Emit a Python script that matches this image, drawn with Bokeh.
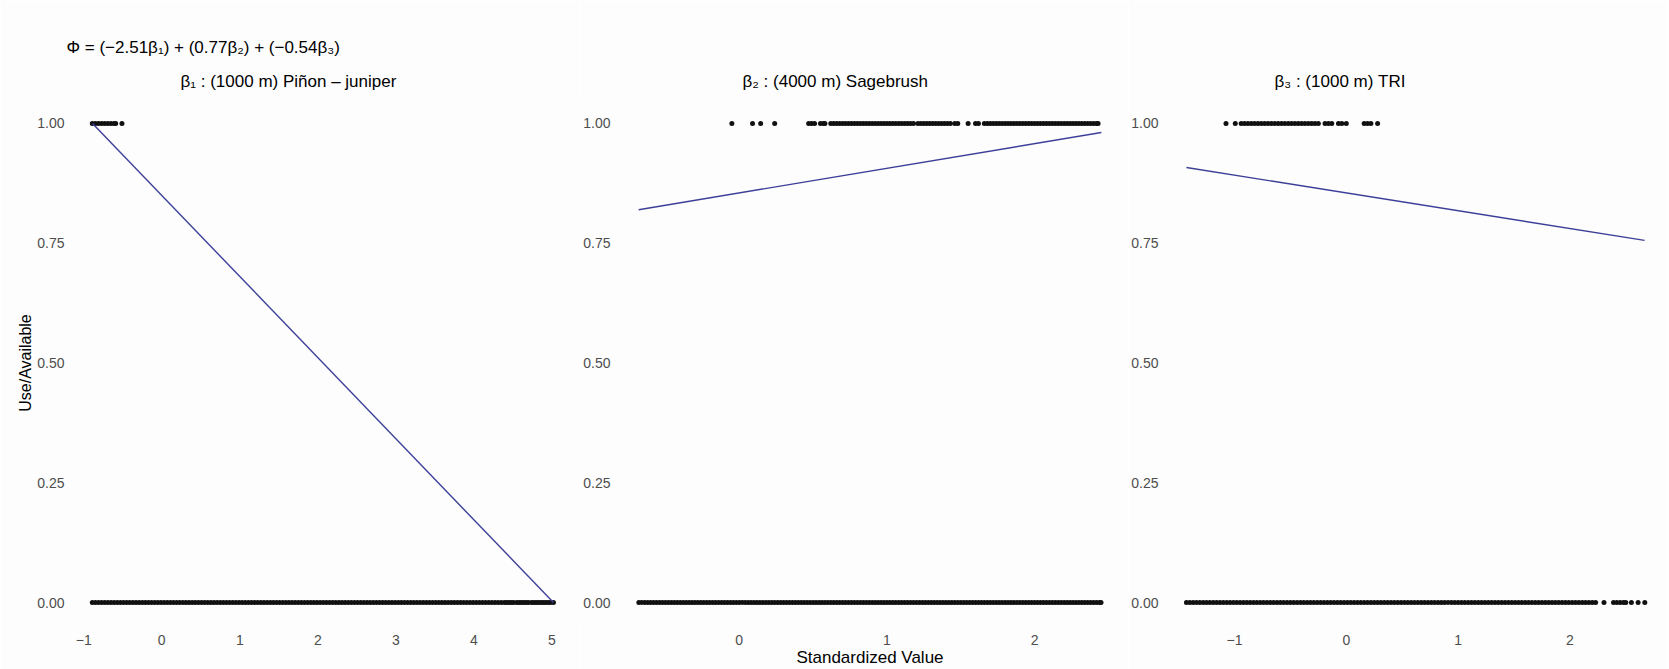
from bokeh.plotting import figure
from bokeh.layouts import row
from bokeh.models import FixedTicker, NumeralTickFormatter, Title
from bokeh.embed import file_html
from bokeh.resources import INLINE

# ---------------- data ----------------
equation = "Φ = (−2.51β₁) + (0.77β₂) + (−0.54β₃)"
panel_titles = ["β₁ : (1000 m) Piñon – juniper", "β₂ : (4000 m) Sagebrush", "β₃ : (1000 m) TRI"]
x_axis_title = "Standardized Value"
y_axis_title = "Use/Available"

y_ticks = [0.0, 0.25, 0.5, 0.75, 1.0]
x_ticks_1 = [-1, 0, 1, 2, 3, 4, 5]
x_ticks_2 = [0, 1, 2]
x_ticks_3 = [-1, 0, 1, 2]

# panel 1: Piñon-juniper (1000 m)
used_x_1 = [-0.89, -0.85, -0.81, -0.77, -0.73, -0.69, -0.65, -0.61, -0.59, -0.51]
avail_x_1 = [
    -0.89, -0.85, -0.81, -0.77, -0.73, -0.69, -0.65, -0.61, -0.57, -0.53,
    -0.49, -0.45, -0.41, -0.37, -0.33, -0.29, -0.25, -0.21, -0.17, -0.13,
    -0.09, -0.05, -0.01, 0.03, 0.07, 0.11, 0.15, 0.19, 0.23, 0.27,
    0.31, 0.35, 0.39, 0.43, 0.47, 0.51, 0.55, 0.59, 0.63, 0.67,
    0.71, 0.75, 0.79, 0.83, 0.87, 0.91, 0.95, 0.99, 1.03, 1.07,
    1.11, 1.15, 1.19, 1.23, 1.27, 1.31, 1.35, 1.39, 1.43, 1.47,
    1.51, 1.55, 1.59, 1.63, 1.67, 1.71, 1.75, 1.79, 1.83, 1.87,
    1.91, 1.95, 1.99, 2.03, 2.07, 2.11, 2.15, 2.19, 2.23, 2.27,
    2.31, 2.35, 2.39, 2.43, 2.47, 2.51, 2.55, 2.59, 2.63, 2.67,
    2.71, 2.75, 2.79, 2.83, 2.87, 2.91, 2.95, 2.99, 3.03, 3.07,
    3.11, 3.15, 3.19, 3.23, 3.27, 3.31, 3.35, 3.39, 3.43, 3.47,
    3.51, 3.55, 3.59, 3.63, 3.67, 3.71, 3.75, 3.79, 3.83, 3.87,
    3.91, 3.95, 3.99, 4.03, 4.07, 4.11, 4.15, 4.19, 4.23, 4.27,
    4.31, 4.35, 4.39, 4.42, 4.45, 4.48, 4.51, 4.55, 4.58, 4.61,
    4.64, 4.67, 4.70, 4.74, 4.77, 4.80, 4.83, 4.86, 4.89, 4.92,
    4.95, 4.98, 5.02]
fit_x_1 = [-0.887, 5.02]
fit_y_1 = [1.0, 0.0]

# panel 2: Sagebrush (4000 m)
used_x_2 = [
    -0.05, 0.09, 0.145, 0.24,
    0.47, 0.49, 0.51, 0.55, 0.57, 0.58,
    0.62, 0.64, 0.66, 0.68, 0.70, 0.72, 0.74, 0.76, 0.78, 0.80,
    0.82, 0.84, 0.86, 0.88, 0.90, 0.92, 0.94, 0.96, 0.98, 1.00,
    1.02, 1.04, 1.06, 1.08, 1.10, 1.12, 1.14, 1.16, 1.18, 1.21,
    1.23, 1.25, 1.27, 1.29, 1.31, 1.33, 1.35, 1.37, 1.39, 1.41,
    1.43, 1.46, 1.48, 1.55, 1.60, 1.62, 1.66, 1.68, 1.70, 1.72,
    1.74, 1.76, 1.78, 1.80, 1.82, 1.84, 1.86, 1.88, 1.90, 1.92,
    1.94, 1.96, 1.98, 2.00, 2.02, 2.04, 2.06, 2.08, 2.10, 2.12,
    2.14, 2.16, 2.18, 2.20, 2.22, 2.24, 2.26, 2.28, 2.30, 2.32,
    2.34, 2.36, 2.38, 2.40, 2.42, 2.43]
avail_x_2 = [
    -0.68, -0.66, -0.64, -0.62, -0.60, -0.58, -0.56, -0.54, -0.52, -0.50,
    -0.48, -0.46, -0.44, -0.42, -0.40, -0.38, -0.36, -0.34, -0.32, -0.30,
    -0.28, -0.26, -0.24, -0.22, -0.20, -0.18, -0.16, -0.14, -0.12, -0.10,
    -0.08, -0.06, -0.04, -0.02, 0.00, 0.02, 0.04, 0.06, 0.08, 0.10,
    0.12, 0.14, 0.16, 0.18, 0.20, 0.22, 0.24, 0.26, 0.28, 0.30,
    0.32, 0.34, 0.36, 0.38, 0.40, 0.42, 0.44, 0.46, 0.48, 0.50,
    0.52, 0.54, 0.56, 0.58, 0.60, 0.62, 0.64, 0.66, 0.68, 0.70,
    0.72, 0.74, 0.76, 0.78, 0.80, 0.82, 0.84, 0.86, 0.88, 0.90,
    0.92, 0.94, 0.96, 0.98, 1.00, 1.02, 1.04, 1.06, 1.08, 1.10,
    1.12, 1.14, 1.16, 1.18, 1.20, 1.22, 1.24, 1.26, 1.28, 1.30,
    1.32, 1.34, 1.36, 1.38, 1.40, 1.42, 1.44, 1.46, 1.48, 1.50,
    1.52, 1.54, 1.56, 1.58, 1.60, 1.62, 1.64, 1.66, 1.68, 1.70,
    1.72, 1.74, 1.76, 1.78, 1.80, 1.82, 1.84, 1.86, 1.88, 1.90,
    1.92, 1.94, 1.96, 1.98, 2.00, 2.02, 2.04, 2.06, 2.08, 2.10,
    2.12, 2.14, 2.16, 2.18, 2.20, 2.22, 2.24, 2.26, 2.28, 2.30,
    2.32, 2.34, 2.36, 2.38, 2.40, 2.42, 2.44, 2.45]
fit_x_2 = [-0.681, 2.452]
fit_y_2 = [0.820, 0.981]

# panel 3: TRI (1000 m)
used_x_3 = [
    -1.076, -0.993, -0.94, -0.91, -0.88, -0.85, -0.82, -0.79, -0.76, -0.73,
    -0.70, -0.67, -0.64, -0.61, -0.58, -0.55, -0.52, -0.49, -0.46, -0.43,
    -0.40, -0.37, -0.34, -0.31, -0.28, -0.25, -0.19, -0.16, -0.13, -0.07,
    -0.04, 0.0, 0.16, 0.19, 0.22, 0.28]
avail_x_3 = [
    -1.43, -1.40, -1.37, -1.34, -1.31, -1.28, -1.25, -1.22, -1.19, -1.16,
    -1.13, -1.10, -1.07, -1.04, -1.01, -0.98, -0.95, -0.92, -0.89, -0.86,
    -0.83, -0.80, -0.77, -0.74, -0.71, -0.68, -0.65, -0.62, -0.59, -0.56,
    -0.53, -0.50, -0.47, -0.44, -0.41, -0.38, -0.35, -0.32, -0.29, -0.26,
    -0.23, -0.20, -0.17, -0.14, -0.11, -0.08, -0.05, -0.02, 0.01, 0.04,
    0.07, 0.10, 0.13, 0.16, 0.19, 0.22, 0.25, 0.28, 0.31, 0.34,
    0.37, 0.40, 0.43, 0.46, 0.49, 0.52, 0.55, 0.58, 0.61, 0.64,
    0.67, 0.70, 0.73, 0.76, 0.79, 0.82, 0.85, 0.88, 0.91, 0.94,
    0.97, 1.00, 1.03, 1.06, 1.09, 1.12, 1.15, 1.18, 1.21, 1.24,
    1.27, 1.30, 1.33, 1.36, 1.39, 1.42, 1.45, 1.48, 1.51, 1.54,
    1.57, 1.60, 1.63, 1.66, 1.69, 1.72, 1.75, 1.78, 1.81, 1.84,
    1.87, 1.90, 1.93, 1.96, 1.99, 2.02, 2.05, 2.08, 2.11, 2.14,
    2.17, 2.20, 2.23, 2.305, 2.39, 2.42, 2.45, 2.48, 2.50, 2.55,
    2.61, 2.67]
fit_x_3 = [-1.43, 2.668]
fit_y_3 = [0.908, 0.756]

# ---------------- style ----------------
FONT = "Liberation Sans"
BG = "#fdfdfd"
LINE_COLOR = "#3c3f98"
TICK_COLOR = "#4d4d4d"
H = 669
DOT = 5


def make_panel(width, bl, br, x_range, x_ticks, used_x, avail_x, fit_x, fit_y):
    p = figure(width=width, height=H, x_range=x_range, y_range=(-0.05, 1.05),
               output_backend="svg", toolbar_location=None,
               min_border_left=bl, min_border_right=br, min_border_top=99, min_border_bottom=39,
               background_fill_color=BG, border_fill_color=BG, outline_line_color=None)
    p.grid.visible = False
    for ax in (p.xaxis[0], p.yaxis[0]):
        ax.axis_line_color = None
        ax.major_tick_line_color = None
        ax.minor_tick_line_color = None
        ax.major_tick_out = 0
        ax.major_tick_in = 0
        ax.minor_tick_out = 0
        ax.minor_tick_in = 0
        ax.major_label_text_font = FONT
        ax.major_label_text_font_size = "14px"
        ax.major_label_text_color = TICK_COLOR
        ax.axis_label_text_font = FONT
        ax.axis_label_text_font_size = "17px"
        ax.axis_label_text_font_style = "normal"
        ax.axis_label_text_color = "#000000"
    p.xaxis.ticker = FixedTicker(ticks=x_ticks)
    p.yaxis.ticker = FixedTicker(ticks=y_ticks)
    p.yaxis.formatter = NumeralTickFormatter(format="0.00")
    p.xaxis.major_label_standoff = 8
    p.yaxis.major_label_standoff = 5

    p.scatter(x=avail_x, y=0.0, size=DOT, color="#111111", line_color=None)
    p.scatter(x=used_x, y=1.0, size=DOT, color="#111111", line_color=None)
    p.line(x=fit_x, y=fit_y, line_color=LINE_COLOR, line_width=1.4)
    return p


def style_title(t, text, offset, size, standoff):
    t.text = text
    t.align = "left"
    t.offset = offset
    t.text_font = FONT
    t.text_font_size = size
    t.text_font_style = "normal"
    t.text_color = "#000000"
    t.standoff = standoff


f1 = make_panel(580, 69, 4, (-1.182, 5.315), x_ticks_1, used_x_1, avail_x_1, fit_x_1, fit_y_1)
f1.yaxis.axis_label = y_axis_title
f1.yaxis.axis_label_standoff = 0
f1.yaxis.axis_label_text_font_size = "16px"
# outer title: the equation; inner title (closest to the frame): panel title
style_title(f1.title, equation, -3, "17px", 10)
t1 = Title()
style_title(t1, panel_titles[0], 111, "17px", 17)
f1.add_layout(t1, "above")

f2 = make_panel(548, 35, 4, (-0.838, 2.609), x_ticks_2, used_x_2, avail_x_2, fit_x_2, fit_y_2)
f2.xaxis.axis_label = x_axis_title
f2.xaxis.axis_label_standoff = 0
style_title(f2.title, panel_titles[1], 127, "17px", 17)

f3 = make_panel(540, 32, 1, (-1.635, 2.873), x_ticks_3, used_x_3, avail_x_3, fit_x_3, fit_y_3)
style_title(f3.title, panel_titles[2], 111, "17px", 17)

layout = row(f1, f2, f3)
open("out.html", "w").write(file_html(layout, INLINE))
